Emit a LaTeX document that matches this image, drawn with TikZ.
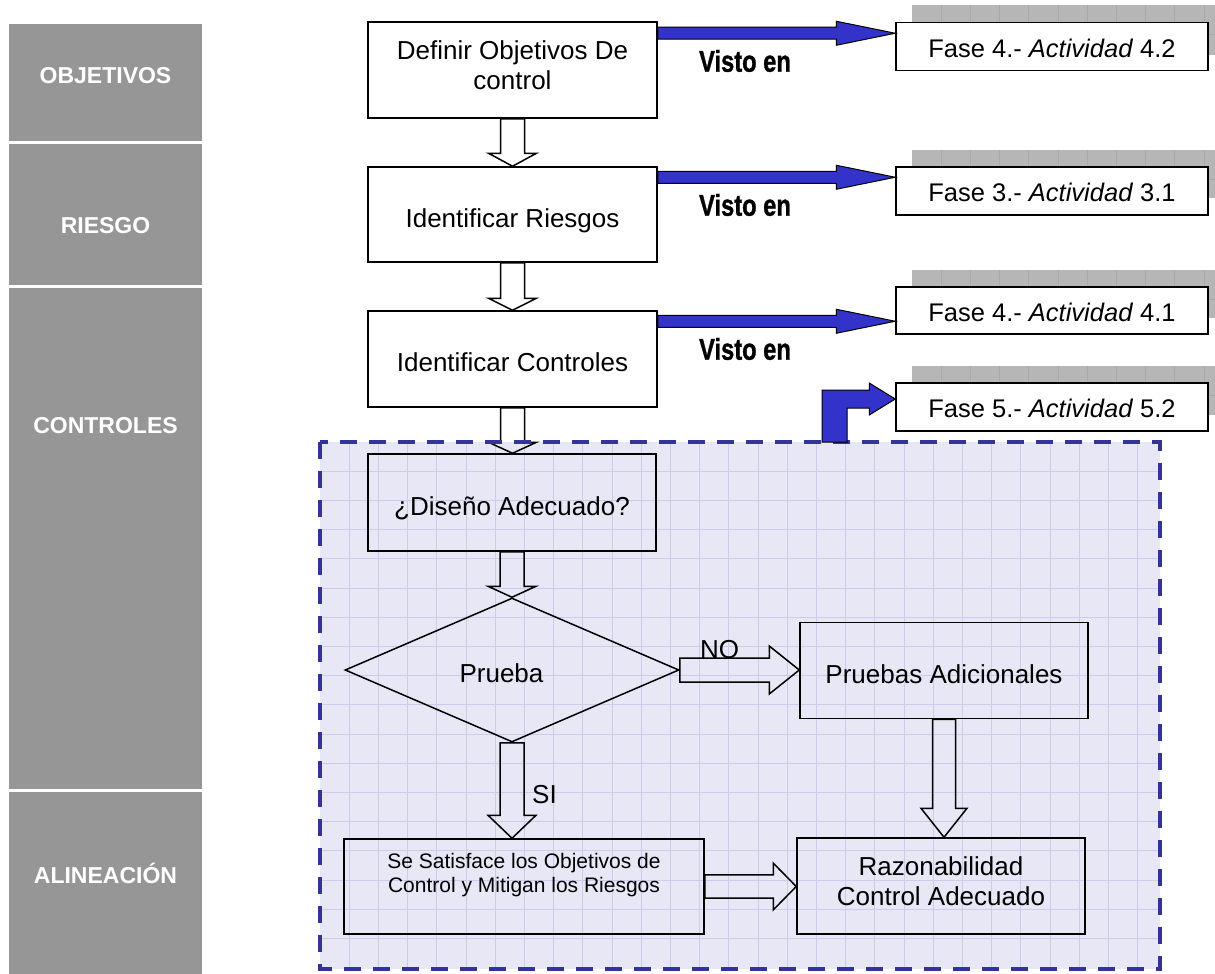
\documentclass[tikz,border=0pt]{standalone}
\usepackage{fontspec}
\setmainfont{Liberation Sans}
\newfontfamily\vistofont[FakeBold=1.2]{Liberation Sans Bold}
\usetikzlibrary{calc,shapes.geometric}

\definecolor{sidegray}{HTML}{969696}
\definecolor{stripgray}{HTML}{B6B6B6}
\definecolor{stripline}{HTML}{A8A8A8}
\definecolor{zonefill}{HTML}{E7E7F6}
\definecolor{zonegrid}{HTML}{CBCBEB}
\definecolor{zoneedge}{HTML}{333399}
\definecolor{linkblue}{HTML}{3333CC}

\tikzset{
  sidebox/.style={fill=sidegray, draw=none, minimum width=193pt, inner sep=0pt},
  sidetxt/.style={text=white, anchor=base, inner sep=0pt,
    font=\bfseries\fontsize{23}{27}\selectfont},
  stepbox/.style={draw, line width=1.5pt, minimum width=289pt, minimum height=96pt,
    inner sep=0pt, align=center, font=\fontsize{26}{30}\selectfont,
    text height=25pt, text depth=0pt},
  twoline/.style={text height=, text depth=10.5pt},
  smallbox/.style={stepbox, font=\fontsize{21}{24}\selectfont,
    text height=, text depth=26.5pt},
  fasebox/.style={draw, fill=white, line width=1.5pt, minimum width=312pt,
    minimum height=48pt, inner sep=0pt, font=\fontsize{25.5}{30}\selectfont,
    text height=21.4pt, text depth=0pt},
  decision/.style={diamond, draw, line width=1.5pt, minimum width=334pt,
    minimum height=144pt, inner sep=0pt, shape aspect=2.3},
  plain/.style={inner sep=0pt, font=\fontsize{26}{30}\selectfont,
    text height=25pt, text depth=0pt},
  tag/.style={inner sep=0pt, anchor=base west, font=\fontsize{26}{30}\selectfont},
  visto/.style={inner sep=0pt, anchor=base, font=\vistofont\fontsize{30}{34}\selectfont},
  hollow/.style={draw, line width=1.5pt, line join=miter},
  bluearrow/.style={draw=black, fill=linkblue, line width=1pt, line join=miter},
  gridl/.style={zonegrid, line width=0.8pt},
  stripl/.style={stripline, line width=0.7pt},
}

% hollow block arrow pointing down: from, to, shaft half width, head length
\newcommand\blockdown[4]{%
  \draw[hollow] let \p1=#1, \p2=#2 in
    (\x1-#3,\y1) -- (\x1-#3,\y2+#4) -- (\x1-2*#3,\y2+#4) -- (\x1,\y2)
    -- (\x1+2*#3,\y2+#4) -- (\x1+#3,\y2+#4) -- (\x1+#3,\y1) -- cycle;}
% hollow block arrow pointing right: from, to, shaft half width, head length
\newcommand\blockright[4]{%
  \draw[hollow] let \p1=#1, \p2=#2 in
    (\x1,\y1+#3) -- (\x2-#4,\y1+#3) -- (\x2-#4,\y1+2*#3) -- (\x2,\y1)
    -- (\x2-#4,\y1-2*#3) -- (\x2-#4,\y1-#3) -- (\x1,\y1-#3) -- cycle;}
% slim blue arrow from a box to a phase reference
\newcommand\bluelink[2]{%
  \draw[bluearrow] let \p1=#1, \p2=#2 in
    (\x1,\y1+6pt) -- (\x2-59pt,\y1+6pt) -- (\x2-59pt,\y1+12pt) -- (\x2,\y1)
    -- (\x2-59pt,\y1-12pt) -- (\x2-59pt,\y1-6pt) -- (\x1,\y1-6pt) -- cycle;}
% grey stippled band behind a phase reference
\newcommand\shadestrip[2]{%
  \fill[stripgray] (912,#1) rectangle (1215,#2);
  \foreach \k in {1,...,10} \draw[stripl] (912+29.2*\k,#1) -- (912+29.2*\k,#2);
  \draw[stripl] (912,#1+29) -- (1215,#1+29);}

\begin{document}
\begin{tikzpicture}[x=1pt,y=-1pt]
\useasboundingbox (0,0) rectangle (1215,974);
\fill[white] (0,0) rectangle (1215,974);

% stage column
\node[sidebox, minimum height=117pt] (s1) at (105.5,82.5) {};
\node[sidebox, minimum height=141pt] (s2) at (105.5,214.5) {};
\node[sidebox, minimum height=501pt] (s3) at (105.5,538.5) {};
\node[sidebox, minimum height=182pt] (s4) at (105.5,883) {};
\node[sidetxt] (t1) at (105.5,83) {OBJETIVOS};
\node[sidetxt] (t2) at (105.5,233) {RIESGO};
\node[sidetxt] (t3) at (105.5,433) {CONTROLES};
\node[sidetxt] (t4) at (105.5,883) {ALINEACIÓN};

% evaluation zone
\fill[zonefill] (320,442) rectangle (1160,969);
\foreach \k in {1,...,28} \draw[gridl] (320+29.2*\k,442) -- (320+29.2*\k,969);
\foreach \k in {1,...,17} \draw[gridl] (320,442+29.2*\k) -- (1160,442+29.2*\k);

% main steps
\node[stepbox, twoline] (b1) at (512.5,70) {Definir Objetivos De\\control};
\node[stepbox, minimum height=95pt] (b2) at (512.5,214.5) {Identificar Riesgos};
\node[stepbox] (b3) at (512.5,359) {Identificar Controles};
\node[stepbox, minimum width=288pt, minimum height=97pt] (d1) at (512,502.5) {¿Diseño Adecuado?};
\node[decision] (dm) at (512,670) {};
\node[plain] (dmt) at (501.5,670) {Prueba};
\node[stepbox, minimum width=288pt] (pa) at (944,670.7) {Pruebas Adicionales};
\node[smallbox, minimum width=360pt, minimum height=95pt] (sat) at (524,886.5)
  {Se Satisface los Objetivos de\\Control y Mitigan los Riesgos};
\node[stepbox, twoline, minimum width=288pt] (ra) at (941,886) {Razonabilidad\\Control Adecuado};

% flow arrows
\blockdown{(b1.south)}{(b2.north)}{12pt}{13pt}
\blockdown{(b2.south)}{(b3.north)}{12pt}{12pt}
\blockdown{(b3.south)}{(d1.north)}{12pt}{11pt}
\blockdown{(d1.south)}{(dm.north)}{12pt}{11pt}
\blockdown{(dm.south)}{(sat.north)}{12pt}{23pt}
\blockdown{(pa.south)}{(ra.north)}{11.5pt}{29pt}
\blockright{(dm.east)}{(pa.west)}{12pt}{30pt}
\blockright{(sat.east)}{(ra.west)}{11.7pt}{23pt}
\node[tag] (no) at (700,658) {NO};
\node[tag] (si) at (532,803) {SI};

% zone border
\draw[zoneedge, line width=4pt, dash pattern=on 17pt off 12pt] (320,442) rectangle (1160,969);

% phase references
\shadestrip{5}{55}
\shadestrip{150}{198}
\shadestrip{270}{318}
\shadestrip{366}{415}
\node[fasebox] (f1) at (1052,46.5) {Fase 4.- \textit{Actividad} 4.2};
\node[fasebox] (f2) at (1052,191) {Fase 3.- \textit{Actividad} 3.1};
\node[fasebox, minimum height=47pt] (f3) at (1052,310.5) {Fase 4.- \textit{Actividad} 4.1};
\node[fasebox] (f4) at (1052,407) {Fase 5.- \textit{Actividad} 5.2};

\bluelink{($(b1.north east)+(0,12)$)}{(f1.west)}
\bluelink{($(b2.north east)+(0,11)$)}{(f2.west)}
\bluelink{($(b3.north east)+(0,11)$)}{(f3.west)}
\node[visto] (v1) at (745,71.7) {\scalebox{0.79}[1]{Visto en}};
\node[visto] (v2) at (745,215.7) {\scalebox{0.79}[1]{Visto en}};
\node[visto] (v3) at (745,359.7) {\scalebox{0.79}[1]{Visto en}};

% bent link from the zone to phase 5
\coordinate (bentfoot) at (834.5,442);
\draw[bluearrow] let \p1=(bentfoot), \p2=(f4.west) in
  (\x1-12.5pt,\y1) -- (\x1-12.5pt,\y2+17pt) -- (\x2-26pt,\y2+17pt) -- (\x2-26pt,\y2+24pt)
  -- (\x2,\y2+8pt) -- (\x2-26pt,\y2-8pt) -- (\x2-26pt,\y2-1pt) -- (\x1+12.5pt,\y2-1pt)
  -- (\x1+12.5pt,\y1) -- cycle;
\end{tikzpicture}
\end{document}
